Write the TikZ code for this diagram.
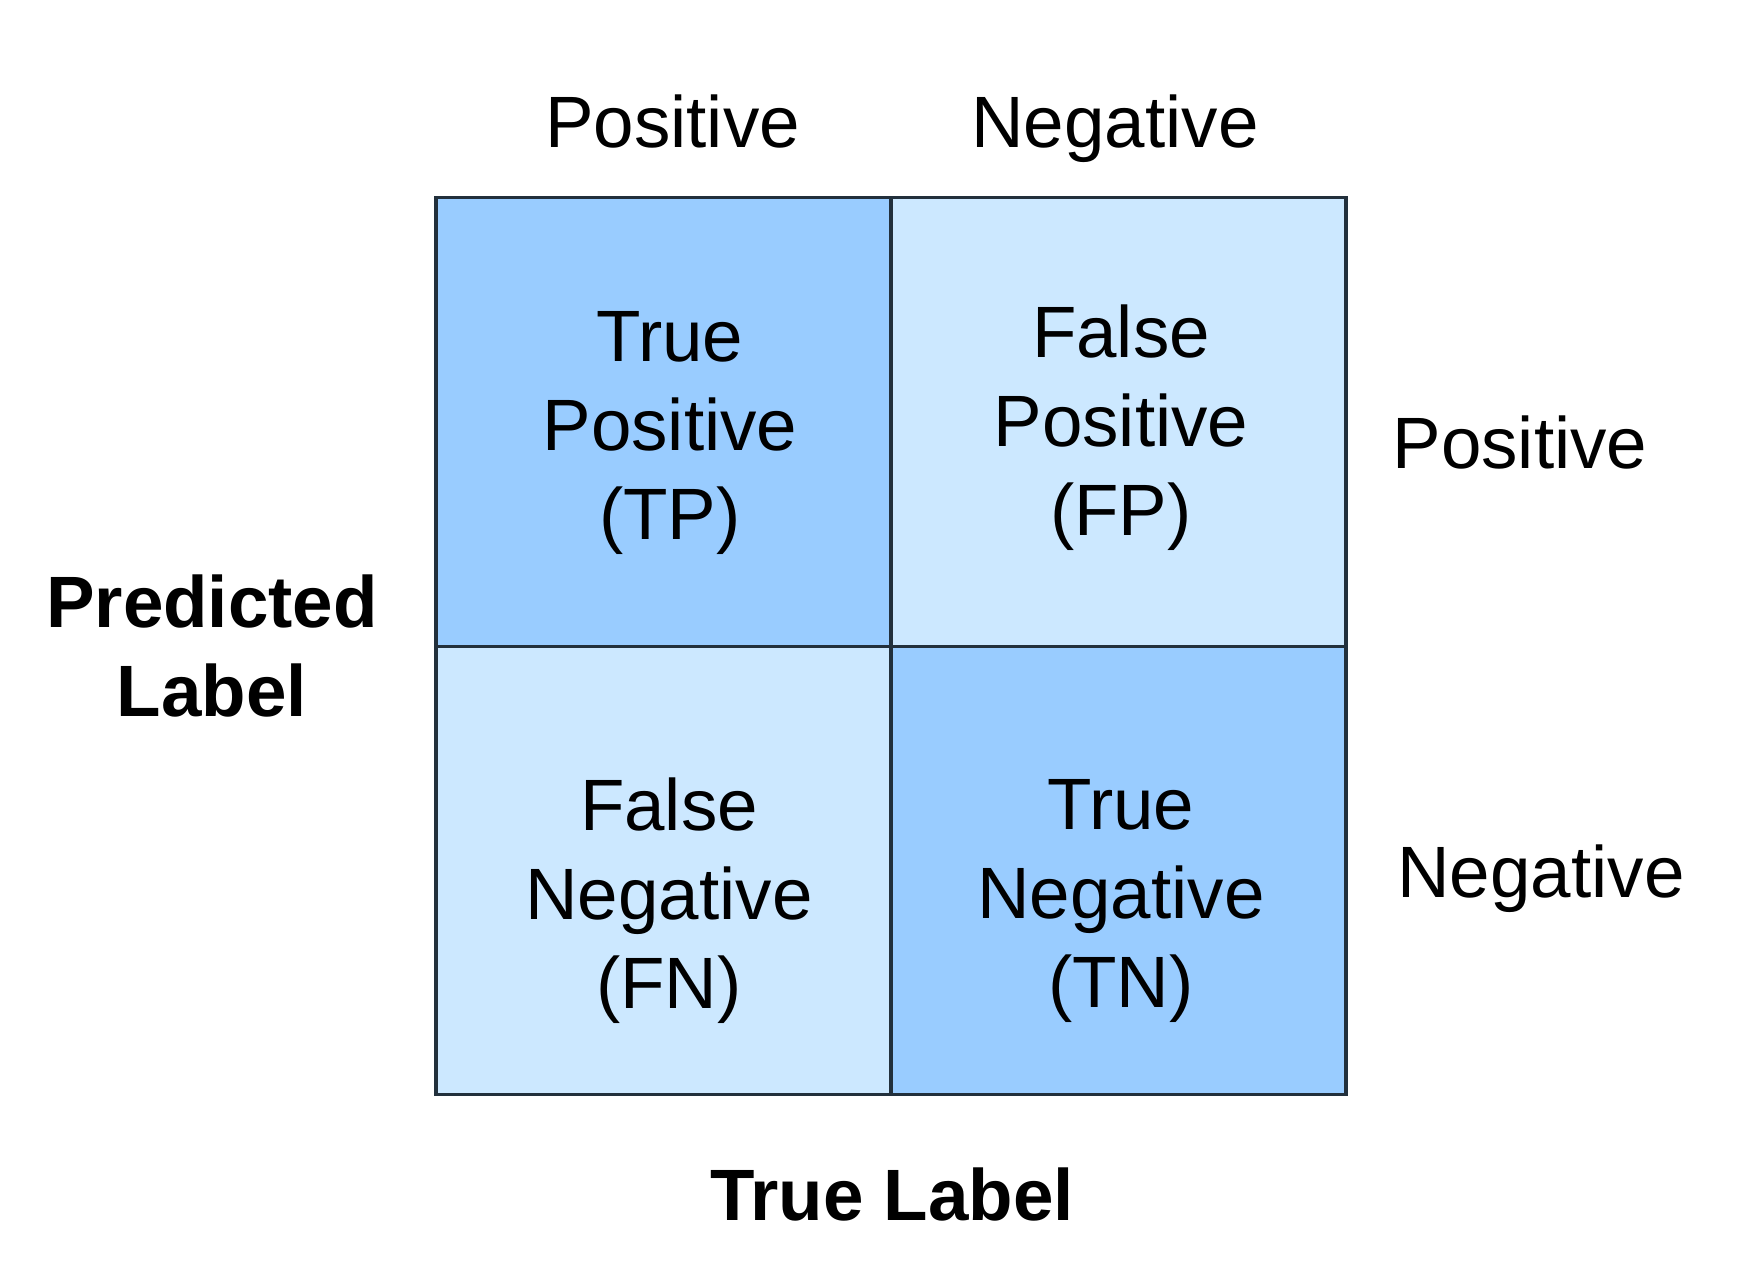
\documentclass[tikz,border=0pt]{standalone}
\usepackage{fontspec}
\setmainfont{Liberation Sans}
\usetikzlibrary{positioning}
\definecolor{cellDark}{HTML}{99CCFF}
\definecolor{cellLight}{HTML}{CCE8FF}
\definecolor{gridline}{HTML}{22303C}

\begin{document}
\begin{tikzpicture}[cell/.style={rectangle,draw=gridline,line width=0.9pt,minimum width=4.55cm,minimum height=4.485cm,inner sep=0pt,outer sep=0pt},
	txt/.style={font=\fontsize{20.7}{25.3}\selectfont,align=center,inner sep=0pt},
	head/.style={txt,font=\fontsize{20.7}{25.3}\selectfont\bfseries}]
	\useasboundingbox (0,0) rectangle (17.51,12.67);
	% the four cells
	\node (tp)[cell,fill=cellDark] at (6.635,8.45){};
	\node (fp)[cell,fill=cellLight,right=0pt of tp]{};
	\node (fn)[cell,fill=cellLight,below=0pt of tp]{};
	\node (tn)[cell,fill=cellDark,right=0pt of fn]{};
	% cell texts
	\node (tpText)[txt] at (6.70,8.34){True\\Positive\\(TP)};
	\node (fpText)[txt] at (11.21,8.39){False\\Positive\\(FP)};
	\node (fnText)[txt] at (6.69,3.66){False\\Negative\\(FN)};
	\node (tnText)[txt] at (11.21,3.66){True\\Negative\\(TN)};
	% column and row labels
	\node (colPos)[txt,anchor=base] at (6.725,11.19){Positive};
	\node (colNeg)[txt,anchor=base] at (11.15,11.19){Negative};
	\node (rowPos)[txt,anchor=base] at (15.20,7.98){Positive};
	\node (rowNeg)[txt,anchor=base] at (15.41,3.69){Negative};
	% axis titles
	\node (predicted)[head] at (2.12,6.21){Predicted\\Label};
	\node (truth)[head,anchor=base] at (8.92,0.46){True Label};
\end{tikzpicture}
\end{document}
